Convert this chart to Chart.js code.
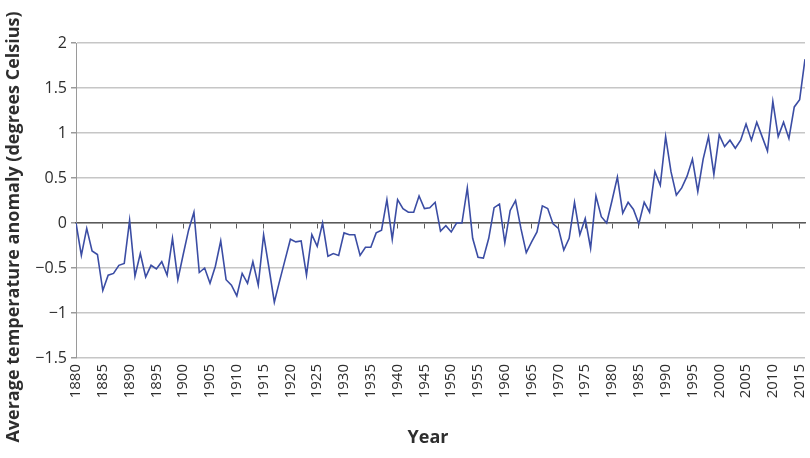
<!DOCTYPE html>
<html>
<head>
<meta charset="utf-8">
<script src="https://cdn.jsdelivr.net/npm/chart.js@4.4.1/dist/chart.umd.min.js"></script>
<style>
html,body{margin:0;padding:0;background:#ffffff;}
#wrap{width:810px;height:458px;position:relative;}
</style>
</head>
<body>
<div id="wrap"><canvas id="c" width="810" height="458"></canvas></div>
<script>
const years = [
1880,1881,1882,1883,1884,1885,1886,1887,1888,1889,
1890,1891,1892,1893,1894,1895,1896,1897,1898,1899,
1900,1901,1902,1903,1904,1905,1906,1907,1908,1909,
1910,1911,1912,1913,1914,1915,1916,1917,1918,1919,
1920,1921,1922,1923,1924,1925,1926,1927,1928,1929,
1930,1931,1932,1933,1934,1935,1936,1937,1938,1939,
1940,1941,1942,1943,1944,1945,1946,1947,1948,1949,
1950,1951,1952,1953,1954,1955,1956,1957,1958,1959,
1960,1961,1962,1963,1964,1965,1966,1967,1968,1969,
1970,1971,1972,1973,1974,1975,1976,1977,1978,1979,
1980,1981,1982,1983,1984,1985,1986,1987,1988,1989,
1990,1991,1992,1993,1994,1995,1996,1997,1998,1999,
2000,2001,2002,2003,2004,2005,2006,2007,2008,2009,
2010,2011,2012,2013,2014,2015,2016
];
const anomaly = [
 0.00,-0.36,-0.06,-0.31,-0.35,-0.75,-0.58,-0.56,-0.47,-0.45,
 0.03,-0.59,-0.34,-0.60,-0.47,-0.51,-0.43,-0.58,-0.17,-0.63,
-0.35,-0.08, 0.12,-0.55,-0.50,-0.67,-0.48,-0.20,-0.63,-0.69,
-0.81,-0.56,-0.67,-0.43,-0.69,-0.13,-0.50,-0.88,-0.64,-0.41,
-0.18,-0.21,-0.20,-0.58,-0.13,-0.26, 0.00,-0.37,-0.34,-0.36,
-0.11,-0.13,-0.13,-0.36,-0.27,-0.27,-0.11,-0.08, 0.26,-0.18,
 0.26, 0.16, 0.12, 0.12, 0.30, 0.16, 0.17, 0.23,-0.09,-0.03,
-0.10, 0.00, 0.00, 0.39,-0.17,-0.38,-0.39,-0.17, 0.17, 0.21,
-0.22, 0.14, 0.25,-0.06,-0.33,-0.21,-0.10, 0.19, 0.16,-0.01,
-0.06,-0.30,-0.17, 0.23,-0.13, 0.05,-0.28, 0.30, 0.07, 0.00,
 0.25, 0.51, 0.11, 0.23, 0.15,-0.01, 0.23, 0.12, 0.57, 0.42,
 0.96, 0.57, 0.31, 0.39, 0.52, 0.71, 0.35, 0.71, 0.96, 0.54,
 0.98, 0.85, 0.92, 0.83, 0.92, 1.10, 0.92, 1.12, 0.96, 0.80,
 1.35, 0.96, 1.12, 0.94, 1.29, 1.37, 1.82
];
const xTickYears = [1880,1885,1890,1895,1900,1905,1910,1915,1920,1925,1930,1935,1940,1945,1950,1955,1960,1965,1970,1975,1980,1985,1990,1995,2000,2005,2010,2015];
const xTickLabels = ['1880','1885','1890','1895','1900','1905','1910','1915','1920','1925','1930','1935','1940','1945','1950','1955','1960','1965','1970','1975','1980','1985','1990','1995','2000','2005','2010','2015'];
const yTickValues = [-1.5,-1,-0.5,0,0.5,1,1.5,2];
const yTickLabels = ['\u22121.5','\u22121','\u22120.5','0','0.5','1','1.5','2'];
const xTitle = 'Year';
const yTitle = 'Average temperature anomaly (degrees Celsius)';

const FONT = '"Open Sans", "Noto Sans", sans-serif';
const TEXT = '#2e2e2e';

const axisTitlePlugin = {
  id: 'axisTitlePlugin',
  afterDraw(chart) {
    const ctx = chart.ctx;
    ctx.save();
    ctx.fillStyle = TEXT;
    ctx.textAlign = 'center';
    ctx.textBaseline = 'middle';
    ctx.font = 'bold 18px ' + FONT;
    ctx.fillText(xTitle, 428, 438);
    ctx.translate(14, 227);
    ctx.rotate(-Math.PI / 2);
    ctx.fillText(yTitle, 0, 0);
    ctx.restore();
  }
};

new Chart(document.getElementById('c'), {
  type: 'line',
  data: {
    datasets: [{
      data: years.map((yr, i) => ({ x: yr, y: anomaly[i] })),
      xAxisID: 'x',
      yAxisID: 'y',
      borderColor: '#3b4da4',
      borderWidth: 1.6,
      pointRadius: 0,
      tension: 0,
      fill: false
    }]
  },
  options: {
    responsive: false,
    animation: false,
    devicePixelRatio: 1,
    layout: { padding: { top: 43, right: 5, left: 0, bottom: 0 } },
    plugins: { legend: { display: false }, tooltip: { enabled: false } },
    scales: {
      x: {
        type: 'linear',
        position: 'bottom',
        min: 1880,
        max: 2016,
        afterBuildTicks: ax => { ax.ticks = xTickYears.map(v => ({ value: v })); },
        afterFit: s => { s.height = 100; s.paddingLeft = 0; s.paddingRight = 0; },
        ticks: {
          autoSkip: false,
          minRotation: 90,
          maxRotation: 90,
          padding: 6,
          color: TEXT,
          font: { family: FONT, size: 15 },
          callback: v => { const i = xTickYears.indexOf(v); return i >= 0 ? xTickLabels[i] : ''; }
        },
        grid: { display: false, drawTicks: false },
        border: { display: false },
        title: { display: false }
      },
      x2: {
        type: 'linear',
        axis: 'x',
        position: { y: 0 },
        min: 1880,
        max: 2016,
        afterBuildTicks: ax => { ax.ticks = xTickYears.map(v => ({ value: v })); },
        ticks: { display: false },
        grid: { drawOnChartArea: false, drawTicks: true, tickLength: 5, color: '#5a5a5a', lineWidth: 1 },
        border: { display: true, color: '#5a5a5a', width: 1.5 }
      },
      y: {
        type: 'linear',
        min: -1.5,
        max: 2,
        afterBuildTicks: ax => { ax.ticks = yTickValues.map(v => ({ value: v })); },
        afterFit: s => { s.width = 76; s.paddingTop = 0; s.paddingBottom = 0; },
        ticks: {
          padding: 4,
          color: TEXT,
          font: { family: FONT, size: 16 },
          callback: v => { const i = yTickValues.indexOf(v); return i >= 0 ? yTickLabels[i] : ''; }
        },
        grid: { color: '#c6c6c6', lineWidth: 1.5, tickLength: 5, tickColor: '#9a9a9a' },
        border: { display: true, color: '#9a9a9a', width: 1 }
      }
    }
  },
  plugins: [axisTitlePlugin]
});
</script>
</body>
</html>
